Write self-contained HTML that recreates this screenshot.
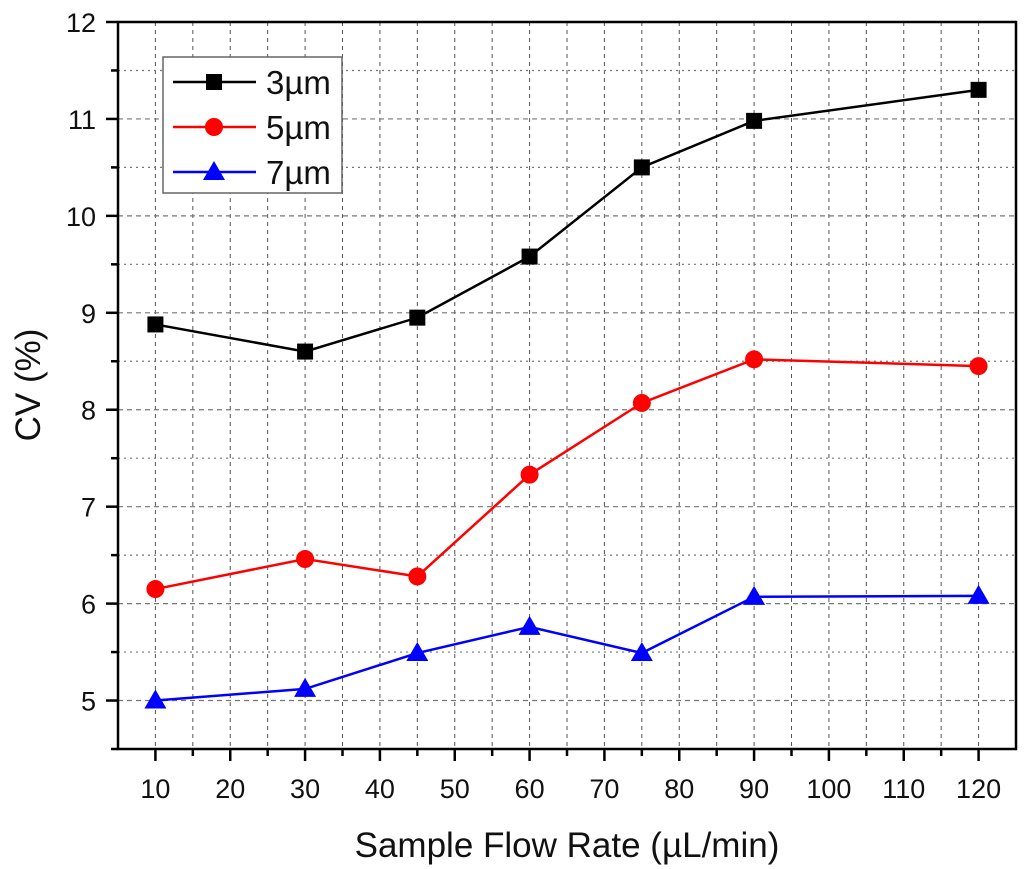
<!DOCTYPE html>
<html><head><meta charset="utf-8"><style>body{margin:0;background:#fff}svg{display:block;font-family:"Liberation Sans",sans-serif}</style></head>
<body>
<svg id="chart" width="1024" height="869"></svg>
<script>
const categories=[10,30,45,60,75,90,120];
const s3=[8.88,8.6,8.95,9.58,10.5,10.98,11.3];
const s5=[6.15,6.46,6.28,7.33,8.07,8.52,8.45];
const s7=[5.0,5.12,5.49,5.76,5.49,6.07,6.08];
const xTicks=[10,20,30,40,50,60,70,80,90,100,110,120];
const yTicks=[5,6,7,8,9,10,11,12];
const L=118,R=1016,T=22,B=749;
const X=v=>L+(v-5)/120*(R-L);
const Y=v=>B-(v-4.5)/7.5*(B-T);
const svg=document.getElementById('chart');const NS='http://www.w3.org/2000/svg';
function mk(t,a,p){const e=document.createElementNS(NS,t);for(const k in a)e.setAttribute(k,a[k]);(p||svg).appendChild(e);return e;}
const grid=mk('g',{});


for(let v=10;v<=120;v+=5){mk('line',{x1:X(v),x2:X(v),y1:T,y2:B,stroke:'#555','stroke-width':1,'stroke-dasharray':'4,4'},grid);}
for(let v=5;v<=12;v+=0.5){mk('line',{x1:L,x2:R,y1:Y(v),y2:Y(v),stroke:'#777','stroke-width':1.2,'stroke-dasharray':Number.isInteger(v)?'5,4':'2,4'},grid);}
mk('rect',{x:L,y:T,width:R-L,height:B-T,fill:'none',stroke:'#000','stroke-width':2.5});
const ax=mk('g',{});


for(let v=10;v<=120;v+=5){const big=v%10==0;mk('line',{x1:X(v),x2:X(v),y1:B,y2:B+(big?12:7),stroke:'#000','stroke-width':2.5},ax);}
xTicks.forEach(v=>{const t=mk('text',{x:X(v),y:B+49,'text-anchor':'middle','font-size':27,fill:'#111'},ax);t.textContent=v;});
for(let v=4.5;v<=12;v+=0.5){const big=Number.isInteger(v);mk('line',{x1:L,x2:L-(big?12:7),y1:Y(v),y2:Y(v),stroke:'#000','stroke-width':2.5},ax);}
yTicks.forEach(v=>{const t=mk('text',{x:L-22,y:Y(v)+10,'text-anchor':'end','font-size':27,fill:'#111'},ax);t.textContent=v;});
const xt=mk('text',{x:567,y:857,'text-anchor':'middle','font-size':35,fill:'#111'});xt.textContent='Sample Flow Rate (µL/min)';


const yt=mk('text',{x:40,y:385,'text-anchor':'middle','font-size':35,fill:'#111',transform:'rotate(-90 40 385)'});yt.textContent='CV (%)';


function marker(g,type,cx,cy,col){
 if(type=='sq')return mk('rect',{x:cx-8,y:cy-8,width:16,height:16,fill:col},g);
 if(type=='ci')return mk('circle',{cx,cy,r:9,fill:col},g);
 return mk('polygon',{points:`${cx},${cy-11} ${cx+11},${cy+8} ${cx-11},${cy+8}`,fill:col},g);
}
[[s3,'#000','sq','series-3um'],[s5,'#f00','ci','series-5um'],[s7,'#00f','tr','series-7um']].forEach(([d,c,m,n])=>{
 const g=mk('g',{});
 
 
 mk('polyline',{points:d.map((v,i)=>X(categories[i])+','+Y(v)).join(' '),fill:'none',stroke:c,'stroke-width':2.5},g);
 d.forEach((v,i)=>{const p=marker(g,m,X(categories[i]),Y(v),c);});
});
const lg=mk('g',{});


mk('rect',{x:163,y:57,width:179,height:136,fill:'#fff',stroke:'#666','stroke-width':1.5},lg);
[['3µm','#000','sq'],['5µm','#f00','ci'],['7µm','#00f','tr']].forEach(([l,c,m],i)=>{
 const y=82+i*45;const e=mk('g',{},lg);
 
 
 mk('line',{x1:173,x2:256,y1:y,y2:y,stroke:c,'stroke-width':2.5},e);
 marker(e,m,214,y,c);
 const t=mk('text',{x:266,y:y+12,'font-size':33,fill:'#111'},e);t.textContent=l;
});
</script>
</body></html>
